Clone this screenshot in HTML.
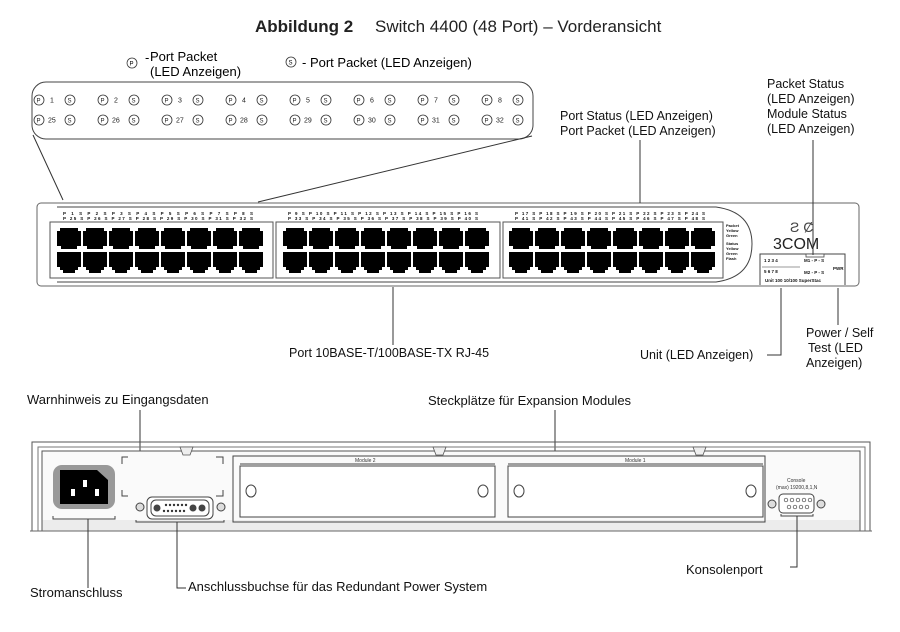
<!DOCTYPE html>
<html><head><meta charset="utf-8"><style>
html,body{margin:0;padding:0;background:#fff;}
svg{display:block;font-family:"Liberation Sans",Arial,sans-serif;}
</style></head><body>
<svg width="900" height="632" viewBox="0 0 900 632" xmlns="http://www.w3.org/2000/svg">
<defs>
<g id="jack"><path d="M0,3 h3 v-3 h18 v3 h3 v15 h-4 v3 h-16 v-3 h-4 z" fill="#000"/></g>
<g id="jackb"><path d="M0,0 h24 v15 h-3 v3 h-3 v3 h-12 v-3 h-3 v-3 h-3 z" fill="#000"/></g>
</defs>
<!-- Title -->
<text x="255" y="32" font-size="17" font-weight="bold" fill="#222">Abbildung 2</text>
<text x="375" y="32" font-size="17" fill="#222">Switch 4400 (48 Port) – Vorderansicht</text>
<!-- Legend -->
<circle cx="132" cy="63" r="5" fill="none" stroke="#333" stroke-width="0.8"/><text x="129.5" y="65.5" font-size="6">P</text>
<text x="145" y="62" font-size="13">-</text>
<text x="150" y="61" font-size="13">Port Packet</text>
<text x="150" y="76" font-size="13">(LED Anzeigen)</text>
<circle cx="291" cy="62" r="5" fill="none" stroke="#333" stroke-width="0.8"/><text x="288.5" y="64.5" font-size="6">S</text>
<text x="302" y="67" font-size="13">- Port Packet (LED Anzeigen)</text>
<!-- LED box -->
<rect x="32" y="82" width="501" height="57" rx="14" fill="none" stroke="#444" stroke-width="1"/>
<g font-size="7" fill="#222">
<g id="ledrow">
</g>
</g>
<g font-size="7" fill="#222" stroke-width="0.8">
<!-- generated groups -->
<g transform="translate(39,0)">
 <circle cx="0" cy="100" r="5" fill="none" stroke="#333"/><text x="-2.5" y="102.5" font-size="6">P</text><text x="11" y="102.5">1</text><circle cx="31" cy="100" r="5" fill="none" stroke="#333"/><text x="28.5" y="102.5" font-size="6">S</text>
 <circle cx="0" cy="120" r="5" fill="none" stroke="#333"/><text x="-2.5" y="122.5" font-size="6">P</text><text x="9" y="122.5">25</text><circle cx="31" cy="120" r="5" fill="none" stroke="#333"/><text x="28.5" y="122.5" font-size="6">S</text>
</g>
<g transform="translate(103,0)">
 <circle cx="0" cy="100" r="5" fill="none" stroke="#333"/><text x="-2.5" y="102.5" font-size="6">P</text><text x="11" y="102.5">2</text><circle cx="31" cy="100" r="5" fill="none" stroke="#333"/><text x="28.5" y="102.5" font-size="6">S</text>
 <circle cx="0" cy="120" r="5" fill="none" stroke="#333"/><text x="-2.5" y="122.5" font-size="6">P</text><text x="9" y="122.5">26</text><circle cx="31" cy="120" r="5" fill="none" stroke="#333"/><text x="28.5" y="122.5" font-size="6">S</text>
</g>
<g transform="translate(167,0)">
 <circle cx="0" cy="100" r="5" fill="none" stroke="#333"/><text x="-2.5" y="102.5" font-size="6">P</text><text x="11" y="102.5">3</text><circle cx="31" cy="100" r="5" fill="none" stroke="#333"/><text x="28.5" y="102.5" font-size="6">S</text>
 <circle cx="0" cy="120" r="5" fill="none" stroke="#333"/><text x="-2.5" y="122.5" font-size="6">P</text><text x="9" y="122.5">27</text><circle cx="31" cy="120" r="5" fill="none" stroke="#333"/><text x="28.5" y="122.5" font-size="6">S</text>
</g>
<g transform="translate(231,0)">
 <circle cx="0" cy="100" r="5" fill="none" stroke="#333"/><text x="-2.5" y="102.5" font-size="6">P</text><text x="11" y="102.5">4</text><circle cx="31" cy="100" r="5" fill="none" stroke="#333"/><text x="28.5" y="102.5" font-size="6">S</text>
 <circle cx="0" cy="120" r="5" fill="none" stroke="#333"/><text x="-2.5" y="122.5" font-size="6">P</text><text x="9" y="122.5">28</text><circle cx="31" cy="120" r="5" fill="none" stroke="#333"/><text x="28.5" y="122.5" font-size="6">S</text>
</g>
<g transform="translate(295,0)">
 <circle cx="0" cy="100" r="5" fill="none" stroke="#333"/><text x="-2.5" y="102.5" font-size="6">P</text><text x="11" y="102.5">5</text><circle cx="31" cy="100" r="5" fill="none" stroke="#333"/><text x="28.5" y="102.5" font-size="6">S</text>
 <circle cx="0" cy="120" r="5" fill="none" stroke="#333"/><text x="-2.5" y="122.5" font-size="6">P</text><text x="9" y="122.5">29</text><circle cx="31" cy="120" r="5" fill="none" stroke="#333"/><text x="28.5" y="122.5" font-size="6">S</text>
</g>
<g transform="translate(359,0)">
 <circle cx="0" cy="100" r="5" fill="none" stroke="#333"/><text x="-2.5" y="102.5" font-size="6">P</text><text x="11" y="102.5">6</text><circle cx="31" cy="100" r="5" fill="none" stroke="#333"/><text x="28.5" y="102.5" font-size="6">S</text>
 <circle cx="0" cy="120" r="5" fill="none" stroke="#333"/><text x="-2.5" y="122.5" font-size="6">P</text><text x="9" y="122.5">30</text><circle cx="31" cy="120" r="5" fill="none" stroke="#333"/><text x="28.5" y="122.5" font-size="6">S</text>
</g>
<g transform="translate(423,0)">
 <circle cx="0" cy="100" r="5" fill="none" stroke="#333"/><text x="-2.5" y="102.5" font-size="6">P</text><text x="11" y="102.5">7</text><circle cx="31" cy="100" r="5" fill="none" stroke="#333"/><text x="28.5" y="102.5" font-size="6">S</text>
 <circle cx="0" cy="120" r="5" fill="none" stroke="#333"/><text x="-2.5" y="122.5" font-size="6">P</text><text x="9" y="122.5">31</text><circle cx="31" cy="120" r="5" fill="none" stroke="#333"/><text x="28.5" y="122.5" font-size="6">S</text>
</g>
<g transform="translate(487,0)">
 <circle cx="0" cy="100" r="5" fill="none" stroke="#333"/><text x="-2.5" y="102.5" font-size="6">P</text><text x="11" y="102.5">8</text><circle cx="31" cy="100" r="5" fill="none" stroke="#333"/><text x="28.5" y="102.5" font-size="6">S</text>
 <circle cx="0" cy="120" r="5" fill="none" stroke="#333"/><text x="-2.5" y="122.5" font-size="6">P</text><text x="9" y="122.5">32</text><circle cx="31" cy="120" r="5" fill="none" stroke="#333"/><text x="28.5" y="122.5" font-size="6">S</text>
</g>
</g>
<!-- connecting lines from LED box -->
<line x1="33" y1="135" x2="63" y2="200" stroke="#333"/>
<line x1="258" y1="202" x2="532" y2="136" stroke="#333"/>
<!-- Front switch -->
<rect x="37" y="203" width="822" height="83" rx="4" fill="none" stroke="#666" stroke-width="1"/>
<path d="M57,207 H716 Q752,212 752,244 Q752,277 716,282 H57" fill="none" stroke="#444"/>
<rect x="50" y="222" width="223" height="56" fill="none" stroke="#555"/>
<rect x="276" y="222" width="224" height="56" fill="none" stroke="#555"/>
<rect x="503" y="222" width="220" height="56" fill="none" stroke="#555"/>
<g font-size="4.5" font-weight="bold" fill="#111">
<text x="63" y="215" textLength="190">P 1 S    P 2 S    P 3 S    P 4 S    P 5 S    P 6 S    P 7 S    P 8 S</text>
<text x="63" y="220" textLength="190">P 25 S   P 26 S   P 27 S   P 28 S   P 29 S   P 30 S   P 31 S   P 32 S</text>
<text x="288" y="215" textLength="190">P 9 S    P 10 S   P 11 S   P 12 S   P 13 S   P 14 S   P 15 S   P 16 S</text>
<text x="288" y="220" textLength="190">P 33 S   P 34 S   P 35 S   P 36 S   P 37 S   P 38 S   P 39 S   P 40 S</text>
<text x="515" y="215" textLength="190">P 17 S   P 18 S   P 19 S   P 20 S   P 21 S   P 22 S   P 23 S   P 24 S</text>
<text x="515" y="220" textLength="190">P 41 S   P 42 S   P 43 S   P 44 S   P 45 S   P 46 S   P 47 S   P 48 S</text>
</g>
<g>
<use href="#jack" x="57" y="228"/><use href="#jack" x="83" y="228"/><use href="#jack" x="109" y="228"/><use href="#jack" x="135" y="228"/><use href="#jack" x="161" y="228"/><use href="#jack" x="187" y="228"/><use href="#jack" x="213" y="228"/><use href="#jack" x="239" y="228"/>
<use href="#jackb" x="57" y="252"/><use href="#jackb" x="83" y="252"/><use href="#jackb" x="109" y="252"/><use href="#jackb" x="135" y="252"/><use href="#jackb" x="161" y="252"/><use href="#jackb" x="187" y="252"/><use href="#jackb" x="213" y="252"/><use href="#jackb" x="239" y="252"/>
<use href="#jack" x="283" y="228"/><use href="#jack" x="309" y="228"/><use href="#jack" x="335" y="228"/><use href="#jack" x="361" y="228"/><use href="#jack" x="387" y="228"/><use href="#jack" x="413" y="228"/><use href="#jack" x="439" y="228"/><use href="#jack" x="465" y="228"/>
<use href="#jackb" x="283" y="252"/><use href="#jackb" x="309" y="252"/><use href="#jackb" x="335" y="252"/><use href="#jackb" x="361" y="252"/><use href="#jackb" x="387" y="252"/><use href="#jackb" x="413" y="252"/><use href="#jackb" x="439" y="252"/><use href="#jackb" x="465" y="252"/>
<use href="#jack" x="509" y="228"/><use href="#jack" x="535" y="228"/><use href="#jack" x="561" y="228"/><use href="#jack" x="587" y="228"/><use href="#jack" x="613" y="228"/><use href="#jack" x="639" y="228"/><use href="#jack" x="665" y="228"/><use href="#jack" x="691" y="228"/>
<use href="#jackb" x="509" y="252"/><use href="#jackb" x="535" y="252"/><use href="#jackb" x="561" y="252"/><use href="#jackb" x="587" y="252"/><use href="#jackb" x="613" y="252"/><use href="#jackb" x="639" y="252"/><use href="#jackb" x="665" y="252"/><use href="#jackb" x="691" y="252"/>
</g>
<g font-size="4" font-weight="bold" fill="#111">
<text x="726" y="227">Packet</text><text x="726" y="232">Yellow</text><text x="726" y="237">Green</text>
<text x="726" y="245">Status</text><text x="726" y="250">Yellow</text><text x="726" y="255">Green</text><text x="726" y="260">Flash</text>
</g>
<text x="790" y="232" font-size="14" fill="#444">Ƨ Ȼ</text>
<text x="773" y="249" font-size="16" fill="#222">3COM</text>
<path d="M760,285 V254 H845 V285" fill="none" stroke="#444"/>
<rect x="806" y="254" width="18" height="3" fill="#fff" stroke="#444" stroke-width="0.8"/>
<g font-size="4.5" font-weight="bold" fill="#111">
<text x="764" y="262">1   2   3   4</text><text x="764" y="273">5   6   7   8</text>
<text x="804" y="262">M1 - P - S</text><text x="804" y="274">M2 - P - S</text>
<text x="833" y="270">PWR</text>
<text x="765" y="282">Unit   100   10/100   SuperStac</text>
</g>
<line x1="762" y1="267" x2="800" y2="267" stroke="#333" stroke-width="0.6"/>
<!-- Front labels -->
<g font-size="12.5" fill="#111">
<text x="560" y="120">Port Status (LED Anzeigen)</text>
<text x="560" y="135">Port Packet (LED Anzeigen)</text>
<text x="767" y="88">Packet Status</text>
<text x="767" y="103">(LED Anzeigen)</text>
<text x="767" y="118">Module Status</text>
<text x="767" y="133">(LED Anzeigen)</text>
<text x="289" y="357">Port 10BASE-T/100BASE-TX RJ-45</text>
<text x="640" y="359">Unit (LED Anzeigen)</text>
<text x="806" y="337">Power / Self</text>
<text x="808" y="352">Test (LED</text>
<text x="806" y="367">Anzeigen)</text>
</g>
<line x1="640" y1="140" x2="640" y2="203" stroke="#333"/>
<line x1="813" y1="140" x2="813" y2="255" stroke="#333"/>
<line x1="393" y1="287" x2="393" y2="345" stroke="#333"/>
<polyline points="767,355 781,355 781,288" fill="none" stroke="#333"/>
<line x1="838" y1="288" x2="838" y2="325" stroke="#333"/>
<!-- Rear labels -->
<g font-size="13" fill="#111">
<text x="27" y="404">Warnhinweis zu Eingangsdaten</text>
<text x="428" y="405">Steckplätze für Expansion Modules</text>
<text x="30" y="597">Stromanschluss</text>
<text x="188" y="591">Anschlussbuchse für das Redundant Power System</text>
<text x="686" y="574">Konsolenport</text>
</g>
<line x1="140" y1="410" x2="140" y2="464" stroke="#333"/>
<line x1="555" y1="410" x2="555" y2="458" stroke="#333"/>
<!-- Rear chassis -->
<rect x="42" y="451" width="818" height="80" fill="#fafafa"/>
<rect x="42" y="520" width="818" height="11" fill="#ececec"/>
<path d="M32,531 V442 H870 V531" fill="none" stroke="#555"/>
<path d="M38,531 V447 H865 V531" fill="none" stroke="#777"/>
<path d="M42,531 V451 H860 V531" fill="none" stroke="#555"/>
<line x1="30" y1="531" x2="872" y2="531" stroke="#666"/>
<path d="M180,447 L193,447 L190,455 L183,455 Z" fill="#eee" stroke="#555" stroke-width="0.8"/>
<path d="M433,447 L446,447 L443,455 L436,455 Z" fill="#eee" stroke="#555" stroke-width="0.8"/>
<path d="M693,447 L706,447 L703,455 L696,455 Z" fill="#eee" stroke="#555" stroke-width="0.8"/>
<!-- power inlet -->
<rect x="53" y="465" width="62" height="44" rx="9" fill="#999"/>
<path d="M60,470 H97 L108,480 V504 H60 Z" fill="#000"/>
<rect x="71" y="489" width="4" height="7" fill="#fff"/><rect x="83" y="480" width="4" height="7" fill="#fff"/><rect x="95" y="489" width="4" height="7" fill="#fff"/>
<polyline points="53,516 53,519 115,519 115,516" fill="none" stroke="#444"/>
<line x1="88" y1="519" x2="88" y2="588" stroke="#333"/>
<!-- dashed box corners -->
<g fill="none" stroke="#444">
<polyline points="122,464 122,457 128,457"/><polyline points="216,457 223,457 223,464"/>
<polyline points="122,490 122,496 128,496"/><polyline points="216,496 223,496 223,490"/>
</g>
<!-- DB15 -->
<circle cx="140" cy="507" r="4" fill="#ddd" stroke="#444"/><circle cx="221" cy="507" r="4" fill="#ddd" stroke="#444"/>
<rect x="147" y="497" width="66" height="22" rx="5" fill="#fff" stroke="#444"/>
<rect x="151" y="500" width="58" height="16" rx="5" fill="none" stroke="#444"/>
<circle cx="157" cy="508" r="3.5" fill="#444"/><circle cx="193" cy="508" r="3.5" fill="#444"/><circle cx="202" cy="508" r="3.5" fill="#444"/>
<g fill="#333"><circle cx="166" cy="505" r="1.2"/><circle cx="170" cy="505" r="1.2"/><circle cx="174" cy="505" r="1.2"/><circle cx="178" cy="505" r="1.2"/><circle cx="182" cy="505" r="1.2"/><circle cx="186" cy="505" r="1.2"/><circle cx="164" cy="511" r="1.2"/><circle cx="168" cy="511" r="1.2"/><circle cx="172" cy="511" r="1.2"/><circle cx="176" cy="511" r="1.2"/><circle cx="180" cy="511" r="1.2"/><circle cx="184" cy="511" r="1.2"/></g>
<polyline points="136,520 136,522 224,522 224,520" fill="none" stroke="#444"/>
<polyline points="177,522 177,588 186,588" fill="none" stroke="#333"/>
<!-- module slots -->
<rect x="233" y="456" width="532" height="66" fill="none" stroke="#444"/>
<rect x="240" y="466" width="255" height="51" fill="#fff" stroke="#444"/>
<rect x="508" y="466" width="255" height="51" fill="#fff" stroke="#444"/>
<line x1="240" y1="464" x2="495" y2="464" stroke="#444"/>
<line x1="508" y1="464" x2="763" y2="464" stroke="#444"/>
<text x="355" y="462" font-size="5" fill="#333">Module 2</text>
<text x="625" y="462" font-size="5" fill="#333">Module 1</text>
<ellipse cx="251" cy="491" rx="5" ry="6" fill="#fff" stroke="#444"/>
<ellipse cx="483" cy="491" rx="5" ry="6" fill="#fff" stroke="#444"/>
<ellipse cx="519" cy="491" rx="5" ry="6" fill="#fff" stroke="#444"/>
<ellipse cx="751" cy="491" rx="5" ry="6" fill="#fff" stroke="#444"/>
<!-- console -->
<text x="787" y="482" font-size="5" fill="#333">Console</text>
<text x="776" y="489" font-size="5" fill="#333">(max) 19200,8,1,N</text>
<circle cx="772" cy="504" r="4" fill="#ddd" stroke="#444"/><circle cx="821" cy="504" r="4" fill="#ddd" stroke="#444"/>
<rect x="779" y="494" width="35" height="19" rx="4" fill="#fff" stroke="#444"/>
<g fill="none" stroke="#444" stroke-width="0.7"><circle cx="786" cy="500" r="1.8"/><circle cx="792" cy="500" r="1.8"/><circle cx="798" cy="500" r="1.8"/><circle cx="804" cy="500" r="1.8"/><circle cx="810" cy="500" r="1.8"/><circle cx="789" cy="507" r="1.8"/><circle cx="795" cy="507" r="1.8"/><circle cx="801" cy="507" r="1.8"/><circle cx="807" cy="507" r="1.8"/></g>
<polyline points="781,514 781,516 813,516 813,514" fill="none" stroke="#444"/>
<polyline points="797,516 797,567 790,567" fill="none" stroke="#333"/>
</svg>
</body></html>
